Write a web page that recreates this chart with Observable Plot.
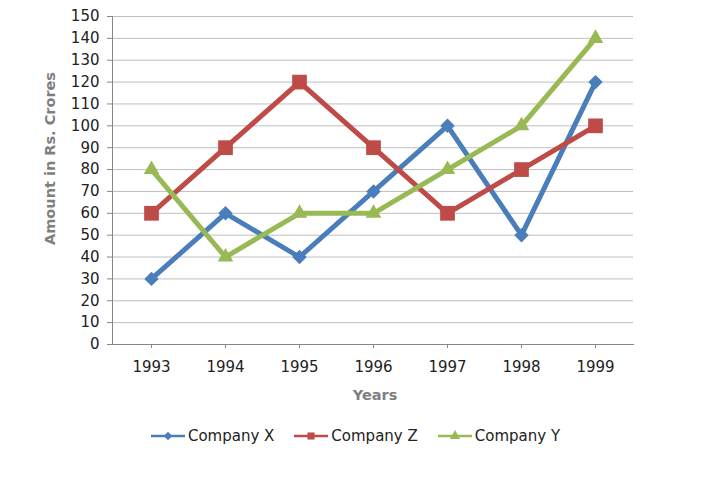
<!DOCTYPE html>
<html><head><meta charset="utf-8">
<script src="https://cdn.jsdelivr.net/npm/d3@7"></script>
<script src="https://cdn.jsdelivr.net/npm/@observablehq/plot@0.6"></script>
<style>
body{margin:0;background:#fff;font-family:"DejaVu Sans",Verdana,sans-serif;}
#wrap{position:relative;width:717px;height:479px;}
#legend{position:absolute;top:426px;left:0;width:711px;height:20px;display:flex;justify-content:center;align-items:center;gap:20px;font-size:15px;color:#222;}
.item{display:flex;align-items:center;gap:3px;}
</style></head><body><div id="wrap"><div id="chart"></div><div id="legend"></div></div>
<script>
const years = ["1993","1994","1995","1996","1997","1998","1999"];
const companyX = [30, 60, 40, 70, 100, 50, 120];
const companyZ = [60, 90, 120, 90, 60, 80, 100];
const companyY = [80, 40, 60, 60, 80, 100, 140];
const seriesNames = ["Company X", "Company Z", "Company Y"];
const seriesValues = [companyX, companyZ, companyY];
const yTicks = [0,10,20,30,40,50,60,70,80,90,100,110,120,130,140,150];
const colors = ["#4A7EBB", "#BE4B48", "#98B954"];
const symbols = ["diamond2", "square", "triangle"];
const radii = [6.5, 8.3, 5.8];

const rows = seriesNames.map((name, i) =>
  years.map((year, j) => ({series: name, year, value: seriesValues[i][j]})));
const data = rows.flat();

const chart = Plot.plot({
  width: 717, height: 415,
  marginLeft: 112, marginRight: 84, marginTop: 16, marginBottom: 71,
  style: {fontFamily: "'DejaVu Sans', Verdana, sans-serif", fontSize: "15px", color: "#222", background: "white"},
  x: {type: "point", domain: years, padding: 0.5, label: null},
  y: {domain: [0, 150], label: null},
  color: {domain: seriesNames, range: colors},
  marks: [
    Plot.gridY(yTicks, {stroke: "#bfbfbf", strokeOpacity: 1}),
    Plot.frame({anchor: "left", stroke: "#868686"}),
    Plot.frame({anchor: "bottom", stroke: "#868686"}),
    Plot.axisY(yTicks, {tickSize: 5, tickPadding: 8, stroke: "#868686", fill: "#222", fontSize: 15, label: null}),
    Plot.axisX({tickSize: 4, tickPadding: 13, stroke: "#868686", fill: "#222", fontSize: 15, label: null}),
    Plot.lineY(data, {x: "year", y: "value", z: "series", stroke: "series", strokeWidth: 5}),
    ...rows.map((r, i) => Plot.dot(r, {x: "year", y: "value", symbol: symbols[i], fill: colors[i], r: radii[i], stroke: null})),
    Plot.text(["Amount in Rs. Crores"], {frameAnchor: "left", textAnchor: "middle", rotate: -90, dx: -62, dy: -22, fill: "#7f7f7f", fontWeight: "bold", fontSize: 14.5}),
    Plot.text(["Years"], {frameAnchor: "bottom", dx: 2, dy: 55, fill: "#7f7f7f", fontWeight: "bold", fontSize: 14.5})
  ]
});
document.getElementById("chart").appendChild(chart);

const legend = document.getElementById("legend");
seriesNames.forEach((name, i) => {
  const item = document.createElement("div");
  item.className = "item";
  const symType = [d3.symbolDiamond2, d3.symbolSquare, d3.symbolTriangle][i];
  const path = d3.symbol(symType, i === 1 ? 50 : 45)();
  item.innerHTML = `<svg width="34" height="14"><line x1="0" x2="34" y1="7" y2="7" stroke="${colors[i]}" stroke-width="2.5"/><path d="${path}" transform="translate(17,7)" fill="${colors[i]}"/></svg><span>${name}</span>`;
  legend.appendChild(item);
});
</script></body></html>
